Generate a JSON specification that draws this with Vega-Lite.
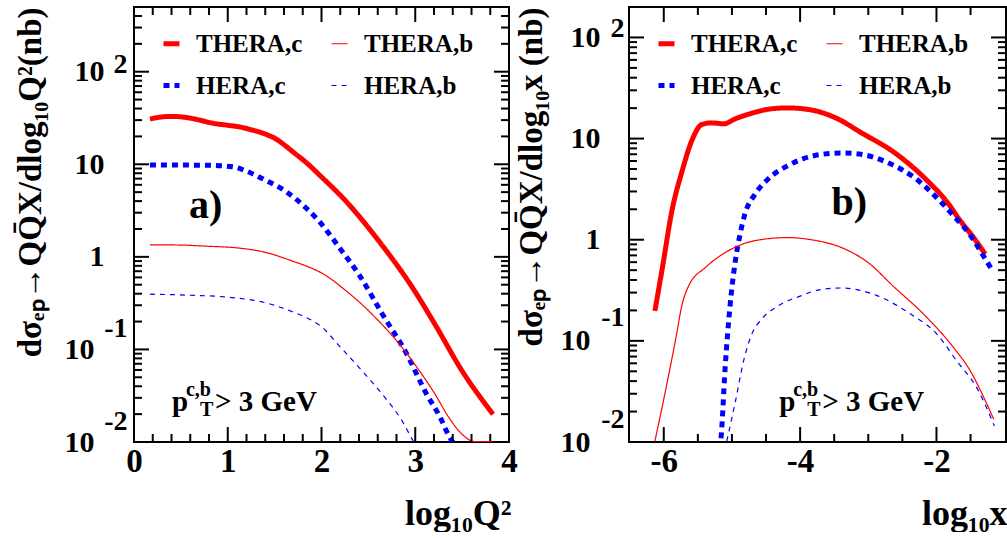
{
  "$schema": "https://vega.github.io/schema/vega-lite/v6.json",
  "background": "white",
  "padding": {"left": 12, "top": 5, "right": 0, "bottom": 0},
  "spacing": 120,
  "bounds": "flush",
  "datasets": {
    "a": [
      {"s": "THERA,c", "x": 0.17, "y": 30.8}, {"s": "THERA,c", "x": 0.3, "y": 32.5}, {"s": "THERA,c", "x": 0.41, "y": 32.9}, {"s": "THERA,c", "x": 0.55, "y": 32.1}, {"s": "THERA,c", "x": 0.7, "y": 30.0}, {"s": "THERA,c", "x": 0.83, "y": 27.9}, {"s": "THERA,c", "x": 1.0, "y": 26.4}, {"s": "THERA,c", "x": 1.12, "y": 25.4}, {"s": "THERA,c", "x": 1.25, "y": 23.6}, {"s": "THERA,c", "x": 1.4, "y": 21.2}, {"s": "THERA,c", "x": 1.51, "y": 18.9}, {"s": "THERA,c", "x": 1.61, "y": 16.0}, {"s": "THERA,c", "x": 1.72, "y": 13.0}, {"s": "THERA,c", "x": 1.83, "y": 10.6}, {"s": "THERA,c", "x": 2.0, "y": 7.3}, {"s": "THERA,c", "x": 2.25, "y": 4.1}, {"s": "THERA,c", "x": 2.61, "y": 1.49}, {"s": "THERA,c", "x": 2.97, "y": 0.466}, {"s": "THERA,c", "x": 3.21, "y": 0.187}, {"s": "THERA,c", "x": 3.5, "y": 0.0586}, {"s": "THERA,c", "x": 3.83, "y": 0.0199},
      {"s": "HERA,c", "x": 0.17, "y": 9.8}, {"s": "HERA,c", "x": 0.5, "y": 9.8}, {"s": "HERA,c", "x": 0.8, "y": 9.75}, {"s": "HERA,c", "x": 1.05, "y": 9.4}, {"s": "HERA,c", "x": 1.19, "y": 8.5}, {"s": "HERA,c", "x": 1.4, "y": 6.75}, {"s": "HERA,c", "x": 1.61, "y": 5.17}, {"s": "HERA,c", "x": 1.83, "y": 3.41}, {"s": "HERA,c", "x": 1.97, "y": 2.45}, {"s": "HERA,c", "x": 2.19, "y": 1.26}, {"s": "HERA,c", "x": 2.41, "y": 0.62}, {"s": "HERA,c", "x": 2.65, "y": 0.24}, {"s": "HERA,c", "x": 2.91, "y": 0.089}, {"s": "HERA,c", "x": 3.12, "y": 0.033}, {"s": "HERA,c", "x": 3.26, "y": 0.019}, {"s": "HERA,c", "x": 3.37, "y": 0.0111}, {"s": "HERA,c", "x": 3.46, "y": 0.0085},
      {"s": "THERA,b", "x": 0.17, "y": 1.35}, {"s": "THERA,b", "x": 0.5, "y": 1.34}, {"s": "THERA,b", "x": 0.8, "y": 1.3}, {"s": "THERA,b", "x": 1.1, "y": 1.25}, {"s": "THERA,b", "x": 1.4, "y": 1.12}, {"s": "THERA,b", "x": 1.69, "y": 0.9}, {"s": "THERA,b", "x": 1.9, "y": 0.75}, {"s": "THERA,b", "x": 2.0, "y": 0.67}, {"s": "THERA,b", "x": 2.25, "y": 0.44}, {"s": "THERA,b", "x": 2.61, "y": 0.203}, {"s": "THERA,b", "x": 2.89, "y": 0.096}, {"s": "THERA,b", "x": 3.07, "y": 0.054}, {"s": "THERA,b", "x": 3.21, "y": 0.033}, {"s": "THERA,b", "x": 3.36, "y": 0.0183}, {"s": "THERA,b", "x": 3.5, "y": 0.0121}, {"s": "THERA,b", "x": 3.64, "y": 0.0101}, {"s": "THERA,b", "x": 3.82, "y": 0.0101},
      {"s": "HERA,b", "x": 0.17, "y": 0.395}, {"s": "HERA,b", "x": 0.6, "y": 0.385}, {"s": "HERA,b", "x": 1.05, "y": 0.363}, {"s": "HERA,b", "x": 1.4, "y": 0.32}, {"s": "HERA,b", "x": 1.69, "y": 0.255}, {"s": "HERA,b", "x": 1.9, "y": 0.205}, {"s": "HERA,b", "x": 2.0, "y": 0.176}, {"s": "HERA,b", "x": 2.18, "y": 0.112}, {"s": "HERA,b", "x": 2.43, "y": 0.059}, {"s": "HERA,b", "x": 2.68, "y": 0.03}, {"s": "HERA,b", "x": 2.86, "y": 0.0169}, {"s": "HERA,b", "x": 2.98, "y": 0.0102}, {"s": "HERA,b", "x": 3.0, "y": 0.0095}
    ],
    "b": [
      {"s": "THERA,c", "x": -6.13, "y": 0.198}, {"s": "THERA,c", "x": -6.02, "y": 0.53}, {"s": "THERA,c", "x": -5.88, "y": 1.94}, {"s": "THERA,c", "x": -5.73, "y": 4.8}, {"s": "THERA,c", "x": -5.59, "y": 9.5}, {"s": "THERA,c", "x": -5.44, "y": 13.8}, {"s": "THERA,c", "x": -5.3, "y": 14.3}, {"s": "THERA,c", "x": -5.12, "y": 14.0}, {"s": "THERA,c", "x": -4.95, "y": 15.7}, {"s": "THERA,c", "x": -4.71, "y": 17.8}, {"s": "THERA,c", "x": -4.42, "y": 19.7}, {"s": "THERA,c", "x": -4.18, "y": 20.1}, {"s": "THERA,c", "x": -3.84, "y": 19.2}, {"s": "THERA,c", "x": -3.45, "y": 15.7}, {"s": "THERA,c", "x": -3.11, "y": 11.5}, {"s": "THERA,c", "x": -2.62, "y": 7.3}, {"s": "THERA,c", "x": -2.135, "y": 3.84}, {"s": "THERA,c", "x": -1.84, "y": 2.34}, {"s": "THERA,c", "x": -1.65, "y": 1.54}, {"s": "THERA,c", "x": -1.455, "y": 1.05}, {"s": "THERA,c", "x": -1.285, "y": 0.72},
      {"s": "HERA,c", "x": -5.18, "y": 0.0085}, {"s": "HERA,c", "x": -5.16, "y": 0.011}, {"s": "HERA,c", "x": -5.1, "y": 0.054}, {"s": "HERA,c", "x": -5.03, "y": 0.214}, {"s": "HERA,c", "x": -4.95, "y": 0.62}, {"s": "HERA,c", "x": -4.88, "y": 1.14}, {"s": "HERA,c", "x": -4.81, "y": 1.79}, {"s": "HERA,c", "x": -4.66, "y": 2.83}, {"s": "HERA,c", "x": -4.47, "y": 3.98}, {"s": "HERA,c", "x": -4.18, "y": 5.4}, {"s": "HERA,c", "x": -3.785, "y": 6.8}, {"s": "HERA,c", "x": -3.4, "y": 7.2}, {"s": "HERA,c", "x": -3.11, "y": 7.0}, {"s": "HERA,c", "x": -2.72, "y": 5.8}, {"s": "HERA,c", "x": -2.33, "y": 4.14}, {"s": "HERA,c", "x": -2.04, "y": 2.79}, {"s": "HERA,c", "x": -1.75, "y": 1.73}, {"s": "HERA,c", "x": -1.5, "y": 1.1}, {"s": "HERA,c", "x": -1.31, "y": 0.69}, {"s": "HERA,c", "x": -1.19, "y": 0.51},
      {"s": "THERA,b", "x": -6.13, "y": 0.0102}, {"s": "THERA,b", "x": -5.975, "y": 0.032}, {"s": "THERA,b", "x": -5.83, "y": 0.1}, {"s": "THERA,b", "x": -5.73, "y": 0.23}, {"s": "THERA,b", "x": -5.635, "y": 0.35}, {"s": "THERA,b", "x": -5.39, "y": 0.53}, {"s": "THERA,b", "x": -5.05, "y": 0.78}, {"s": "THERA,b", "x": -4.66, "y": 0.98}, {"s": "THERA,b", "x": -4.18, "y": 1.05}, {"s": "THERA,b", "x": -3.84, "y": 1.0}, {"s": "THERA,b", "x": -3.4, "y": 0.84}, {"s": "THERA,b", "x": -3.01, "y": 0.6}, {"s": "THERA,b", "x": -2.62, "y": 0.34}, {"s": "THERA,b", "x": -2.19, "y": 0.184}, {"s": "THERA,b", "x": -1.75, "y": 0.086}, {"s": "THERA,b", "x": -1.5, "y": 0.05}, {"s": "THERA,b", "x": -1.31, "y": 0.028}, {"s": "THERA,b", "x": -1.16, "y": 0.0168},
      {"s": "HERA,b", "x": -5.076, "y": 0.0102}, {"s": "HERA,b", "x": -4.95, "y": 0.025}, {"s": "HERA,b", "x": -4.83, "y": 0.063}, {"s": "HERA,b", "x": -4.71, "y": 0.116}, {"s": "HERA,b", "x": -4.565, "y": 0.164}, {"s": "HERA,b", "x": -4.32, "y": 0.222}, {"s": "HERA,b", "x": -3.98, "y": 0.28}, {"s": "HERA,b", "x": -3.74, "y": 0.318}, {"s": "HERA,b", "x": -3.4, "y": 0.333}, {"s": "HERA,b", "x": -2.87, "y": 0.28}, {"s": "HERA,b", "x": -2.38, "y": 0.184}, {"s": "HERA,b", "x": -1.99, "y": 0.116}, {"s": "HERA,b", "x": -1.7, "y": 0.063}, {"s": "HERA,b", "x": -1.41, "y": 0.0345}, {"s": "HERA,b", "x": -1.15, "y": 0.0144}
    ]
  },
  "resolve": {"scale": {"color": "independent", "strokeDash": "independent", "strokeWidth": "independent"}},
  "hconcat": [
    {
      "width": 375,
      "height": 435,
      "data": {"name": "a"},
      "resolve": {"axis": {"x": "independent", "y": "independent"}},
      "layer": [
        {
          "mark": {"type": "line", "clip": true, "interpolate": "monotone"},
          "encoding": {
            "x": {"field": "x", "type": "quantitative", "scale": {"domain": [0, 4], "nice": false, "zero": false},
              "axis": {"orient": "bottom", "values": [0, 1, 2, 3, 4], "ticks": false, "tickSize": 0, "labelFontSize": 33, "labelPadding": 3, "labelFlush": false,
                "title": "log₁₀Q²", "titleFontSize": 36, "titleAlign": "right", "titleAnchor": "end", "titleBaseline": "alphabetic", "titleX": 377, "titleY": 82}},
            "y": {"field": "y", "type": "quantitative", "scale": {"type": "log", "domain": [0.01, 500], "nice": false},
              "axis": {"orient": "left", "values": [100, 10, 1, 0.1, 0.01], "ticks": false, "tickSize": 0, "labelExpr": "datum.value == 1 ? '1' : '10'", "labelFontSize": 30, "labelBaseline": "middle", "labelFlush": false,
                "labelPadding": {"condition": {"test": "datum.value < 0.5", "value": 40}, "value": 30},
                "title": "dσₑₚ→QQ̄X/dlog₁₀Q²(nb)", "titleFontSize": 33, "titleAnchor": "end", "titleAlign": "right", "titleBaseline": "alphabetic", "titleX": -94, "titleY": 0}},
            "color": {"field": "s", "type": "nominal", "scale": {"domain": ["THERA,c", "THERA,b", "HERA,c", "HERA,b"], "range": ["#ff0000", "#ff0000", "#0000ff", "#0000ff"]}, "legend": {"title": null}},
            "strokeDash": {"field": "s", "type": "nominal", "scale": {"domain": ["THERA,c", "THERA,b", "HERA,c", "HERA,b"], "range": [[1, 0], [1, 0], [6, 5], [5, 5]]}, "legend": {"title": null}},
            "strokeWidth": {"field": "s", "type": "nominal", "scale": {"type": "ordinal", "domain": ["THERA,c", "THERA,b", "HERA,c", "HERA,b"], "range": [5, 1.2, 5, 1.2]}, "legend": {"title": null}}
          }
        },
        {
          "mark": {"type": "point", "opacity": 0},
          "encoding": {
            "x": {"field": "x", "type": "quantitative", "scale": {"domain": [0, 4], "nice": false, "zero": false}, "axis": null},
            "y": {"field": "y", "type": "quantitative", "scale": {"type": "log", "domain": [0.01, 500], "nice": false},
              "axis": {"orient": "left", "values": [100, 0.1, 0.01], "ticks": false, "tickSize": 0, "labelExpr": "datum.value > 50 ? '2' : (datum.value > 0.05 ? '-1' : '-2')", "labelFontSize": 28, "labelBaseline": "middle", "labelPadding": 7, "labelFlush": false,
                "labelOffset": {"condition": {"test": "datum.value > 50", "value": -7}, "value": -21}, "title": null}}
          }
        },
        {
          "data": {"values": [{"v": 1}, {"v": 2}, {"v": 3}]},
          "mark": {"type": "rule", "color": "#000000", "strokeWidth": 2, "opacity": 1},
          "encoding": {"x": {"field": "v", "type": "quantitative", "scale": {"domain": [0, 4], "nice": false, "zero": false}, "axis": null}, "y": {"datum": 0.01025, "type": "quantitative", "scale": {"type": "log", "domain": [0.01, 500], "nice": false}, "axis": null}, "y2": {"datum": 0.0145}}
        },
        {
          "data": {"values": [{"v": 1}, {"v": 2}, {"v": 3}]},
          "mark": {"type": "rule", "color": "#000000", "strokeWidth": 2, "opacity": 1},
          "encoding": {"x": {"field": "v", "type": "quantitative", "scale": {"domain": [0, 4], "nice": false, "zero": false}, "axis": null}, "y": {"datum": 488, "type": "quantitative", "scale": {"type": "log", "domain": [0.01, 500], "nice": false}, "axis": null}, "y2": {"datum": 344}}
        },
        {
          "data": {"values": [{"v": 0.2}, {"v": 0.4}, {"v": 0.6}, {"v": 0.8}, {"v": 1.2}, {"v": 1.4}, {"v": 1.6}, {"v": 1.8}, {"v": 2.2}, {"v": 2.4}, {"v": 2.6}, {"v": 2.8}, {"v": 3.2}, {"v": 3.4}, {"v": 3.6}, {"v": 3.8}]},
          "mark": {"type": "rule", "color": "#000000", "strokeWidth": 2, "opacity": 1},
          "encoding": {"x": {"field": "v", "type": "quantitative", "scale": {"domain": [0, 4], "nice": false, "zero": false}, "axis": null}, "y": {"datum": 0.01025, "type": "quantitative", "scale": {"type": "log", "domain": [0.01, 500], "nice": false}, "axis": null}, "y2": {"datum": 0.0122}}
        },
        {
          "data": {"values": [{"v": 0.2}, {"v": 0.4}, {"v": 0.6}, {"v": 0.8}, {"v": 1.2}, {"v": 1.4}, {"v": 1.6}, {"v": 1.8}, {"v": 2.2}, {"v": 2.4}, {"v": 2.6}, {"v": 2.8}, {"v": 3.2}, {"v": 3.4}, {"v": 3.6}, {"v": 3.8}]},
          "mark": {"type": "rule", "color": "#000000", "strokeWidth": 2, "opacity": 1},
          "encoding": {"x": {"field": "v", "type": "quantitative", "scale": {"domain": [0, 4], "nice": false, "zero": false}, "axis": null}, "y": {"datum": 488, "type": "quantitative", "scale": {"type": "log", "domain": [0.01, 500], "nice": false}, "axis": null}, "y2": {"datum": 410}}
        },
        {
          "data": {"values": [{"v": 100}, {"v": 10}, {"v": 1}, {"v": 0.1}]},
          "mark": {"type": "rule", "color": "#000000", "strokeWidth": 2, "opacity": 1},
          "encoding": {"y": {"field": "v", "type": "quantitative", "scale": {"type": "log", "domain": [0.01, 500], "nice": false}, "axis": null}, "x": {"datum": 0.0107, "type": "quantitative", "scale": {"domain": [0, 4], "nice": false, "zero": false}, "axis": null}, "x2": {"datum": 0.16}}
        },
        {
          "data": {"values": [{"v": 100}, {"v": 10}, {"v": 1}, {"v": 0.1}]},
          "mark": {"type": "rule", "color": "#000000", "strokeWidth": 2, "opacity": 1},
          "encoding": {"y": {"field": "v", "type": "quantitative", "scale": {"type": "log", "domain": [0.01, 500], "nice": false}, "axis": null}, "x": {"datum": 3.989, "type": "quantitative", "scale": {"domain": [0, 4], "nice": false, "zero": false}, "axis": null}, "x2": {"datum": 3.84}}
        },
        {
          "data": {"values": [{"v": 0.02}, {"v": 0.03}, {"v": 0.04}, {"v": 0.05}, {"v": 0.06}, {"v": 0.07}, {"v": 0.08}, {"v": 0.09}, {"v": 0.2}, {"v": 0.3}, {"v": 0.4}, {"v": 0.5}, {"v": 0.6}, {"v": 0.7}, {"v": 0.8}, {"v": 0.9}, {"v": 2}, {"v": 3}, {"v": 4}, {"v": 5}, {"v": 6}, {"v": 7}, {"v": 8}, {"v": 9}, {"v": 20}, {"v": 30}, {"v": 40}, {"v": 50}, {"v": 60}, {"v": 70}, {"v": 80}, {"v": 90}, {"v": 200}, {"v": 300}, {"v": 400}]},
          "mark": {"type": "rule", "color": "#000000", "strokeWidth": 2, "opacity": 1},
          "encoding": {"y": {"field": "v", "type": "quantitative", "scale": {"type": "log", "domain": [0.01, 500], "nice": false}, "axis": null}, "x": {"datum": 0.0107, "type": "quantitative", "scale": {"domain": [0, 4], "nice": false, "zero": false}, "axis": null}, "x2": {"datum": 0.0853}}
        },
        {
          "data": {"values": [{"v": 0.02}, {"v": 0.03}, {"v": 0.04}, {"v": 0.05}, {"v": 0.06}, {"v": 0.07}, {"v": 0.08}, {"v": 0.09}, {"v": 0.2}, {"v": 0.3}, {"v": 0.4}, {"v": 0.5}, {"v": 0.6}, {"v": 0.7}, {"v": 0.8}, {"v": 0.9}, {"v": 2}, {"v": 3}, {"v": 4}, {"v": 5}, {"v": 6}, {"v": 7}, {"v": 8}, {"v": 9}, {"v": 20}, {"v": 30}, {"v": 40}, {"v": 50}, {"v": 60}, {"v": 70}, {"v": 80}, {"v": 90}, {"v": 200}, {"v": 300}, {"v": 400}]},
          "mark": {"type": "rule", "color": "#000000", "strokeWidth": 2, "opacity": 1},
          "encoding": {"y": {"field": "v", "type": "quantitative", "scale": {"type": "log", "domain": [0.01, 500], "nice": false}, "axis": null}, "x": {"datum": 3.989, "type": "quantitative", "scale": {"domain": [0, 4], "nice": false, "zero": false}, "axis": null}, "x2": {"datum": 3.915}}
        },
        {
          "data": {"values": [{}]},
          "mark": {"type": "text", "fontSize": 40, "fontWeight": "bold", "align": "center", "baseline": "middle", "color": "black"},
          "encoding": {
            "x": {"datum": 0.763, "type": "quantitative", "scale": {"domain": [0, 4], "nice": false, "zero": false}, "axis": null},
            "y": {"datum": 3.56, "type": "quantitative", "scale": {"type": "log", "domain": [0.01, 500], "nice": false}, "axis": null},
            "text": {"value": "a)"}
          }
        },
        {
          "data": {"values": [{}]},
          "mark": {"type": "text", "fontSize": 29, "fontWeight": "bold", "align": "left", "baseline": "alphabetic", "color": "black"},
          "encoding": {
            "x": {"datum": 0.405, "type": "quantitative", "scale": {"domain": [0, 4], "nice": false, "zero": false}, "axis": null},
            "y": {"datum": 0.0216, "type": "quantitative", "scale": {"type": "log", "domain": [0.01, 500], "nice": false}, "axis": null},
            "text": {"value": "p"}
          }
        },
        {
          "data": {"values": [{}]},
          "mark": {"type": "text", "fontSize": 20, "fontWeight": "bold", "align": "left", "baseline": "alphabetic", "color": "black", "dx": 14, "dy": -15},
          "encoding": {
            "x": {"datum": 0.405, "type": "quantitative", "scale": {"domain": [0, 4], "nice": false, "zero": false}, "axis": null},
            "y": {"datum": 0.0216, "type": "quantitative", "scale": {"type": "log", "domain": [0.01, 500], "nice": false}, "axis": null},
            "text": {"value": "c,b"}
          }
        },
        {
          "data": {"values": [{}]},
          "mark": {"type": "text", "fontSize": 20, "fontWeight": "bold", "align": "left", "baseline": "alphabetic", "color": "black", "dx": 28, "dy": 5},
          "encoding": {
            "x": {"datum": 0.405, "type": "quantitative", "scale": {"domain": [0, 4], "nice": false, "zero": false}, "axis": null},
            "y": {"datum": 0.0216, "type": "quantitative", "scale": {"type": "log", "domain": [0.01, 500], "nice": false}, "axis": null},
            "text": {"value": "T"}
          }
        },
        {
          "data": {"values": [{}]},
          "mark": {"type": "text", "fontSize": 29, "fontWeight": "bold", "align": "left", "baseline": "alphabetic", "color": "black", "dx": 43},
          "encoding": {
            "x": {"datum": 0.405, "type": "quantitative", "scale": {"domain": [0, 4], "nice": false, "zero": false}, "axis": null},
            "y": {"datum": 0.0216, "type": "quantitative", "scale": {"type": "log", "domain": [0.01, 500], "nice": false}, "axis": null},
            "text": {"value": "> 3 GeV"}
          }
        }
      ]
    },
    {
      "width": 377,
      "height": 435,
      "data": {"name": "b"},
      "resolve": {"axis": {"x": "independent", "y": "independent"}},
      "layer": [
        {
          "mark": {"type": "line", "clip": true, "interpolate": "monotone"},
          "encoding": {
            "x": {"field": "x", "type": "quantitative", "scale": {"domain": [-6.51, -0.98], "nice": false, "zero": false},
              "axis": {"orient": "bottom", "values": [-6, -4, -2], "ticks": false, "tickSize": 0, "labelExpr": "'' + datum.value", "labelFontSize": 33, "labelPadding": 3, "labelFlush": false,
                "title": "log₁₀x", "titleFontSize": 36, "titleAlign": "right", "titleAnchor": "end", "titleBaseline": "alphabetic", "titleX": 378, "titleY": 82}},
            "y": {"field": "y", "type": "quantitative", "scale": {"type": "log", "domain": [0.01, 200], "nice": false},
              "axis": {"orient": "left", "values": [100, 10, 1, 0.1, 0.01], "ticks": false, "tickSize": 0, "labelExpr": "datum.value == 1 ? '1' : '10'", "labelFontSize": 30, "labelBaseline": "middle", "labelFlush": false,
                "labelPadding": {"condition": {"test": "datum.value < 0.5", "value": 39}, "value": 29},
                "title": "dσₑₚ→QQ̄X/dlog₁₀x (nb)", "titleFontSize": 33, "titleAnchor": "end", "titleAlign": "right", "titleBaseline": "alphabetic", "titleX": -88, "titleY": 0}},
            "color": {"field": "s", "type": "nominal", "scale": {"domain": ["THERA,c", "THERA,b", "HERA,c", "HERA,b"], "range": ["#ff0000", "#ff0000", "#0000ff", "#0000ff"]}, "legend": {"title": null}},
            "strokeDash": {"field": "s", "type": "nominal", "scale": {"domain": ["THERA,c", "THERA,b", "HERA,c", "HERA,b"], "range": [[1, 0], [1, 0], [6, 5], [5, 5]]}, "legend": {"title": null}},
            "strokeWidth": {"field": "s", "type": "nominal", "scale": {"type": "ordinal", "domain": ["THERA,c", "THERA,b", "HERA,c", "HERA,b"], "range": [5, 1.2, 5, 1.2]}, "legend": {"title": null}}
          }
        },
        {
          "mark": {"type": "point", "opacity": 0},
          "encoding": {
            "x": {"field": "x", "type": "quantitative", "scale": {"domain": [-6.51, -0.98], "nice": false, "zero": false}, "axis": null},
            "y": {"field": "y", "type": "quantitative", "scale": {"type": "log", "domain": [0.01, 200], "nice": false},
              "axis": {"orient": "left", "values": [100, 0.1, 0.01], "ticks": false, "tickSize": 0, "labelExpr": "datum.value > 50 ? '2' : (datum.value > 0.05 ? '-1' : '-2')", "labelFontSize": 28, "labelBaseline": "middle", "labelPadding": 5, "labelFlush": false,
                "labelOffset": {"condition": {"test": "datum.value > 50", "value": -9}, "value": -23}, "title": null}}
          }
        },
        {
          "data": {"values": [{"v": -6}, {"v": -4}, {"v": -2}]},
          "mark": {"type": "rule", "color": "#000000", "strokeWidth": 2, "opacity": 1},
          "encoding": {"x": {"field": "v", "type": "quantitative", "scale": {"domain": [-6.51, -0.98], "nice": false, "zero": false}, "axis": null}, "y": {"datum": 0.01023, "type": "quantitative", "scale": {"type": "log", "domain": [0.01, 200], "nice": false}, "axis": null}, "y2": {"datum": 0.01407}}
        },
        {
          "data": {"values": [{"v": -6}, {"v": -4}, {"v": -2}]},
          "mark": {"type": "rule", "color": "#000000", "strokeWidth": 2, "opacity": 1},
          "encoding": {"x": {"field": "v", "type": "quantitative", "scale": {"domain": [-6.51, -0.98], "nice": false, "zero": false}, "axis": null}, "y": {"datum": 195.5, "type": "quantitative", "scale": {"type": "log", "domain": [0.01, 200], "nice": false}, "axis": null}, "y2": {"datum": 142}}
        },
        {
          "data": {"values": [{"v": -5.5}, {"v": -5}, {"v": -4.5}, {"v": -3.5}, {"v": -3}, {"v": -2.5}, {"v": -1.5}]},
          "mark": {"type": "rule", "color": "#000000", "strokeWidth": 2, "opacity": 1},
          "encoding": {"x": {"field": "v", "type": "quantitative", "scale": {"domain": [-6.51, -0.98], "nice": false, "zero": false}, "axis": null}, "y": {"datum": 0.01023, "type": "quantitative", "scale": {"type": "log", "domain": [0.01, 200], "nice": false}, "axis": null}, "y2": {"datum": 0.012}}
        },
        {
          "data": {"values": [{"v": -5.5}, {"v": -5}, {"v": -4.5}, {"v": -3.5}, {"v": -3}, {"v": -2.5}, {"v": -1.5}]},
          "mark": {"type": "rule", "color": "#000000", "strokeWidth": 2, "opacity": 1},
          "encoding": {"x": {"field": "v", "type": "quantitative", "scale": {"domain": [-6.51, -0.98], "nice": false, "zero": false}, "axis": null}, "y": {"datum": 195.5, "type": "quantitative", "scale": {"type": "log", "domain": [0.01, 200], "nice": false}, "axis": null}, "y2": {"datum": 166.7}}
        },
        {
          "data": {"values": [{"v": 100}, {"v": 10}, {"v": 1}, {"v": 0.1}]},
          "mark": {"type": "rule", "color": "#000000", "strokeWidth": 2, "opacity": 1},
          "encoding": {"y": {"field": "v", "type": "quantitative", "scale": {"type": "log", "domain": [0.01, 200], "nice": false}, "axis": null}, "x": {"datum": -6.495, "type": "quantitative", "scale": {"domain": [-6.51, -0.98], "nice": false, "zero": false}, "axis": null}, "x2": {"datum": -6.29}}
        },
        {
          "data": {"values": [{"v": 100}, {"v": 10}, {"v": 1}, {"v": 0.1}]},
          "mark": {"type": "rule", "color": "#000000", "strokeWidth": 2, "opacity": 1},
          "encoding": {"y": {"field": "v", "type": "quantitative", "scale": {"type": "log", "domain": [0.01, 200], "nice": false}, "axis": null}, "x": {"datum": -0.995, "type": "quantitative", "scale": {"domain": [-6.51, -0.98], "nice": false, "zero": false}, "axis": null}, "x2": {"datum": -1.2}}
        },
        {
          "data": {"values": [{"v": 0.02}, {"v": 0.03}, {"v": 0.04}, {"v": 0.05}, {"v": 0.06}, {"v": 0.07}, {"v": 0.08}, {"v": 0.09}, {"v": 0.2}, {"v": 0.3}, {"v": 0.4}, {"v": 0.5}, {"v": 0.6}, {"v": 0.7}, {"v": 0.8}, {"v": 0.9}, {"v": 2}, {"v": 3}, {"v": 4}, {"v": 5}, {"v": 6}, {"v": 7}, {"v": 8}, {"v": 9}, {"v": 20}, {"v": 30}, {"v": 40}, {"v": 50}, {"v": 60}, {"v": 70}, {"v": 80}, {"v": 90}]},
          "mark": {"type": "rule", "color": "#000000", "strokeWidth": 2, "opacity": 1},
          "encoding": {"y": {"field": "v", "type": "quantitative", "scale": {"type": "log", "domain": [0.01, 200], "nice": false}, "axis": null}, "x": {"datum": -6.495, "type": "quantitative", "scale": {"domain": [-6.51, -0.98], "nice": false, "zero": false}, "axis": null}, "x2": {"datum": -6.393}}
        },
        {
          "data": {"values": [{"v": 0.02}, {"v": 0.03}, {"v": 0.04}, {"v": 0.05}, {"v": 0.06}, {"v": 0.07}, {"v": 0.08}, {"v": 0.09}, {"v": 0.2}, {"v": 0.3}, {"v": 0.4}, {"v": 0.5}, {"v": 0.6}, {"v": 0.7}, {"v": 0.8}, {"v": 0.9}, {"v": 2}, {"v": 3}, {"v": 4}, {"v": 5}, {"v": 6}, {"v": 7}, {"v": 8}, {"v": 9}, {"v": 20}, {"v": 30}, {"v": 40}, {"v": 50}, {"v": 60}, {"v": 70}, {"v": 80}, {"v": 90}]},
          "mark": {"type": "rule", "color": "#000000", "strokeWidth": 2, "opacity": 1},
          "encoding": {"y": {"field": "v", "type": "quantitative", "scale": {"type": "log", "domain": [0.01, 200], "nice": false}, "axis": null}, "x": {"datum": -0.995, "type": "quantitative", "scale": {"domain": [-6.51, -0.98], "nice": false, "zero": false}, "axis": null}, "x2": {"datum": -1.097}}
        },
        {
          "data": {"values": [{}]},
          "mark": {"type": "text", "fontSize": 40, "fontWeight": "bold", "align": "center", "baseline": "middle", "color": "black"},
          "encoding": {
            "x": {"datum": -3.28, "type": "quantitative", "scale": {"domain": [-6.51, -0.98], "nice": false, "zero": false}, "axis": null},
            "y": {"datum": 2.32, "type": "quantitative", "scale": {"type": "log", "domain": [0.01, 200], "nice": false}, "axis": null},
            "text": {"value": "b)"}
          }
        },
        {
          "data": {"values": [{}]},
          "mark": {"type": "text", "fontSize": 29, "fontWeight": "bold", "align": "left", "baseline": "alphabetic", "color": "black"},
          "encoding": {
            "x": {"datum": -4.307, "type": "quantitative", "scale": {"domain": [-6.51, -0.98], "nice": false, "zero": false}, "axis": null},
            "y": {"datum": 0.0203, "type": "quantitative", "scale": {"type": "log", "domain": [0.01, 200], "nice": false}, "axis": null},
            "text": {"value": "p"}
          }
        },
        {
          "data": {"values": [{}]},
          "mark": {"type": "text", "fontSize": 20, "fontWeight": "bold", "align": "left", "baseline": "alphabetic", "color": "black", "dx": 14, "dy": -15},
          "encoding": {
            "x": {"datum": -4.307, "type": "quantitative", "scale": {"domain": [-6.51, -0.98], "nice": false, "zero": false}, "axis": null},
            "y": {"datum": 0.0203, "type": "quantitative", "scale": {"type": "log", "domain": [0.01, 200], "nice": false}, "axis": null},
            "text": {"value": "c,b"}
          }
        },
        {
          "data": {"values": [{}]},
          "mark": {"type": "text", "fontSize": 20, "fontWeight": "bold", "align": "left", "baseline": "alphabetic", "color": "black", "dx": 28, "dy": 5},
          "encoding": {
            "x": {"datum": -4.307, "type": "quantitative", "scale": {"domain": [-6.51, -0.98], "nice": false, "zero": false}, "axis": null},
            "y": {"datum": 0.0203, "type": "quantitative", "scale": {"type": "log", "domain": [0.01, 200], "nice": false}, "axis": null},
            "text": {"value": "T"}
          }
        },
        {
          "data": {"values": [{}]},
          "mark": {"type": "text", "fontSize": 29, "fontWeight": "bold", "align": "left", "baseline": "alphabetic", "color": "black", "dx": 43},
          "encoding": {
            "x": {"datum": -4.307, "type": "quantitative", "scale": {"domain": [-6.51, -0.98], "nice": false, "zero": false}, "axis": null},
            "y": {"datum": 0.0203, "type": "quantitative", "scale": {"type": "log", "domain": [0.01, 200], "nice": false}, "axis": null},
            "text": {"value": "> 3 GeV"}
          }
        }
      ]
    }
  ],
  "config": {
    "font": "Liberation Serif",
    "view": {"stroke": "black", "strokeWidth": 2},
    "axis": {"domain": false, "grid": false, "labelFontWeight": "bold", "titleFontWeight": "bold", "labelColor": "black", "titleColor": "black", "labelOverlap": false, "labelBound": false, "labelFlush": false},
    "legend": {"orient": "none", "direction": "horizontal", "legendX": 25, "legendY": 24, "columns": 2, "columnPadding": 24, "rowPadding": 16, "labelFontSize": 25, "labelFontWeight": "bold", "labelColor": "black", "labelOffset": 12, "symbolSize": 256, "symbolType": "stroke", "padding": 0}
  }
}
